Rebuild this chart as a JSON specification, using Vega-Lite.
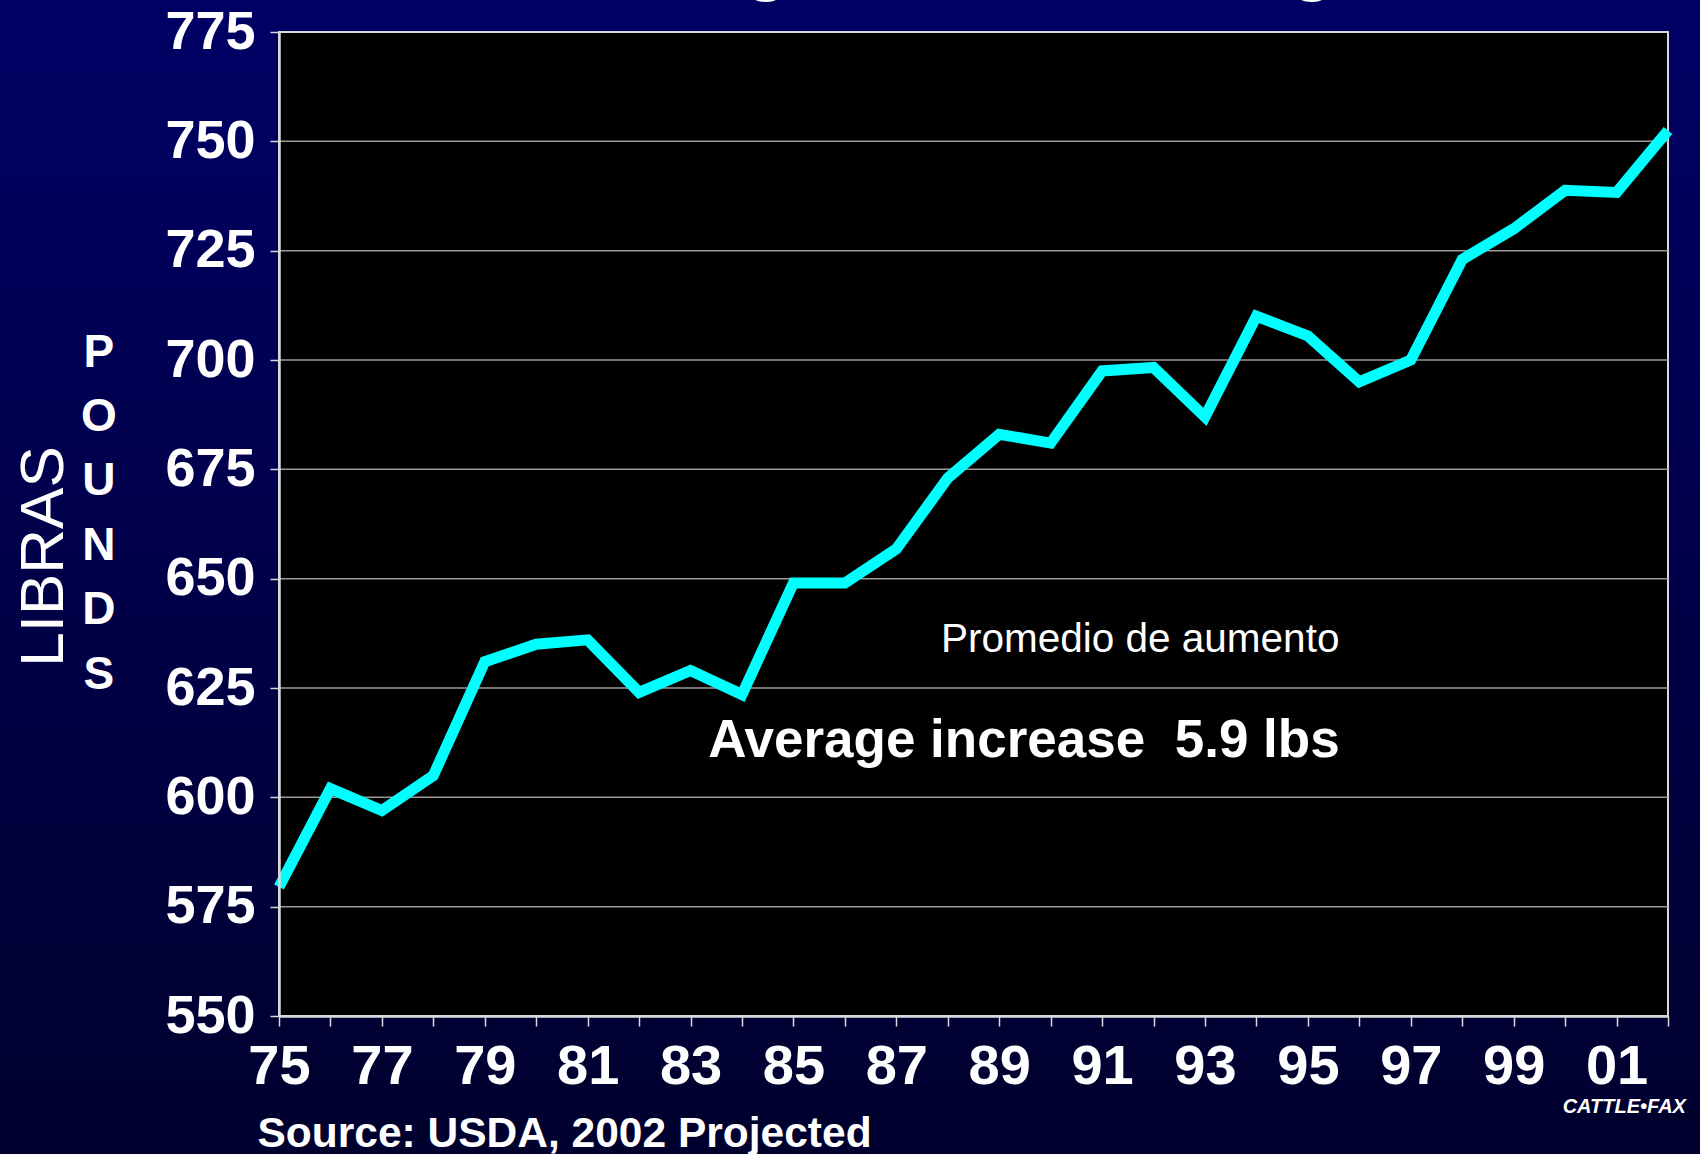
{
  "$schema": "https://vega.github.io/schema/vega-lite/v6.json",
  "autosize": {"type": "none"},
  "width": 1389,
  "height": 984,
  "padding": {"left": 279, "top": 32, "right": 32, "bottom": 138},
  "background": "#000048",
  "config": {"view": {"stroke": null}, "font": "Liberation Sans"},
  "datasets": {
    "weights": [
      {"year": 1975, "lbs": 579.5},
      {"year": 1976, "lbs": 602},
      {"year": 1977, "lbs": 597},
      {"year": 1978, "lbs": 605},
      {"year": 1979, "lbs": 631},
      {"year": 1980, "lbs": 635},
      {"year": 1981, "lbs": 636},
      {"year": 1982, "lbs": 624},
      {"year": 1983, "lbs": 629},
      {"year": 1984, "lbs": 623.5},
      {"year": 1985, "lbs": 649},
      {"year": 1986, "lbs": 649},
      {"year": 1987, "lbs": 656.8},
      {"year": 1988, "lbs": 673},
      {"year": 1989, "lbs": 683},
      {"year": 1990, "lbs": 681},
      {"year": 1991, "lbs": 697.5},
      {"year": 1992, "lbs": 698.3},
      {"year": 1993, "lbs": 687},
      {"year": 1994, "lbs": 710},
      {"year": 1995, "lbs": 705.5},
      {"year": 1996, "lbs": 695},
      {"year": 1997, "lbs": 700},
      {"year": 1998, "lbs": 723},
      {"year": 1999, "lbs": 730},
      {"year": 2000, "lbs": 738.8},
      {"year": 2001, "lbs": 738.3},
      {"year": 2002, "lbs": 752.5}
    ],
    "grid": [
      {"g": 575}, {"g": 600}, {"g": 625}, {"g": 650}, {"g": 675}, {"g": 700}, {"g": 725}, {"g": 750}
    ],
    "one": [{}]
  },
  "layer": [
    {
      "data": {"name": "one"},
      "mark": {"type": "rect", "color": {"gradient": "linear", "x1": 0, "y1": 0, "x2": 0, "y2": 1, "stops": [{"offset": 0, "color": "#000066"}, {"offset": 1, "color": "#00002c"}]}},
      "encoding": {
        "x": {"datum": 1969, "type": "quantitative", "scale": {"domain": [1975, 2002], "nice": false, "zero": false}},
        "x2": {"datum": 2005},
        "y": {"datum": 512, "type": "quantitative", "scale": {"domain": [550, 775], "nice": false, "zero": false}},
        "y2": {"datum": 786}
      }
    },
    {
      "data": {"name": "one"},
      "mark": {"type": "rect", "fill": "#000000", "stroke": "#d8d8d8", "strokeWidth": 2},
      "encoding": {
        "x": {"datum": 1975, "type": "quantitative", "scale": {"domain": [1975, 2002], "nice": false, "zero": false}},
        "x2": {"datum": 2002},
        "y": {"datum": 550, "type": "quantitative", "scale": {"domain": [550, 775], "nice": false, "zero": false}},
        "y2": {"datum": 775}
      }
    },
    {
      "data": {"name": "grid"},
      "mark": {"type": "rule", "color": "#9a9a9a", "strokeWidth": 1.5},
      "encoding": {
        "y": {"field": "g", "type": "quantitative", "scale": {"domain": [550, 775], "nice": false, "zero": false}}
      }
    },
    {
      "data": {"name": "weights"},
      "mark": {"type": "line", "color": "#00ffff", "strokeWidth": 11, "strokeJoin": "miter", "strokeCap": "butt"},
      "encoding": {
        "x": {
          "field": "year", "type": "quantitative",
          "scale": {"domain": [1975, 2002], "nice": false, "zero": false},
          "axis": {
            "zindex": 1,
            "values": [1975,1976,1977,1978,1979,1980,1981,1982,1983,1984,1985,1986,1987,1988,1989,1990,1991,1992,1993,1994,1995,1996,1997,1998,1999,2000,2001,2002],
            "labelExpr": "datum.value % 2 == 1 ? substring(toString(datum.value), 2) : ''",
            "grid": false,
            "domain": true, "domainColor": "#d8d8d8", "domainWidth": 2.5,
            "ticks": true, "tickColor": "#d8d8d8", "tickSize": 10, "tickWidth": 1.5,
            "labelFont": "Liberation Sans", "labelFontWeight": "bold", "labelFontSize": 56, "labelColor": "#ffffff",
            "labelPadding": 13, "labelFlush": false, "labelOverlap": false, "labelBound": false,
            "title": "Source: USDA, 2002 Projected",
            "titleFont": "Liberation Sans", "titleFontWeight": "bold", "titleFontSize": 42.5, "titleColor": "#ffffff",
            "titleAnchor": "start", "titleAlign": "left", "titleBaseline": "alphabetic",
            "titleX": -22, "titleY": 130
          }
        },
        "y": {
          "field": "lbs", "type": "quantitative",
          "scale": {"domain": [550, 775], "nice": false, "zero": false},
          "axis": {
            "zindex": 1,
            "values": [550, 575, 600, 625, 650, 675, 700, 725, 750, 775],
            "grid": false,
            "domain": true, "domainColor": "#d8d8d8", "domainWidth": 2.5,
            "ticks": true, "tickColor": "#d8d8d8", "tickSize": 9, "tickWidth": 1.5,
            "labelFont": "Liberation Sans", "labelFontWeight": "bold", "labelFontSize": 54, "labelColor": "#ffffff",
            "labelPadding": 15, "labelFlush": false, "labelOverlap": false, "labelBound": false,
            "title": "LIBRAS",
            "titleFont": "Liberation Sans", "titleFontWeight": "normal", "titleFontSize": 62, "titleColor": "#ffffff",
            "titleAngle": 270, "titleAlign": "center", "titleBaseline": "alphabetic",
            "titleX": -217, "titleY": 524
          }
        }
      }
    },
    {
      "data": {"name": "one"},
      "mark": {"type": "text", "text": "P\nO\nU\nN\nD\nS", "lineBreak": "\n", "lineHeight": 64.4, "font": "Liberation Sans", "fontWeight": "bold", "fontSize": 46, "color": "#ffffff", "align": "center", "baseline": "alphabetic"},
      "encoding": {
        "x": {"datum": 1971.5, "type": "quantitative", "scale": {"domain": [1975, 2002], "nice": false, "zero": false}},
        "y": {"datum": 698.5, "type": "quantitative", "scale": {"domain": [550, 775], "nice": false, "zero": false}}
      }
    },
    {
      "data": {"name": "one"},
      "mark": {"type": "text", "text": "Promedio de aumento", "font": "Liberation Sans", "fontWeight": "normal", "fontSize": 40.5, "color": "#ffffff", "align": "center", "baseline": "alphabetic"},
      "encoding": {
        "x": {"datum": 1991.74, "type": "quantitative", "scale": {"domain": [1975, 2002], "nice": false, "zero": false}},
        "y": {"datum": 633.2, "type": "quantitative", "scale": {"domain": [550, 775], "nice": false, "zero": false}}
      }
    },
    {
      "data": {"name": "one"},
      "mark": {"type": "text", "text": "Average increase \u00a05.9 lbs", "font": "Liberation Sans", "fontWeight": "bold", "fontSize": 53, "color": "#ffffff", "align": "center", "baseline": "alphabetic"},
      "encoding": {
        "x": {"datum": 1989.48, "type": "quantitative", "scale": {"domain": [1975, 2002], "nice": false, "zero": false}},
        "y": {"datum": 609.2, "type": "quantitative", "scale": {"domain": [550, 775], "nice": false, "zero": false}}
      }
    },
    {
      "data": {"name": "one"},
      "mark": {"type": "text", "text": "Average Dressed Weight", "font": "Liberation Sans", "fontWeight": "bold", "fontSize": 73.5, "color": "#ffffff", "align": "center", "baseline": "alphabetic"},
      "encoding": {
        "x": {"datum": 1988.5, "type": "quantitative", "scale": {"domain": [1975, 2002], "nice": false, "zero": false}},
        "y": {"datum": 785.2, "type": "quantitative", "scale": {"domain": [550, 775], "nice": false, "zero": false}}
      }
    },
    {
      "data": {"name": "one"},
      "mark": {"type": "text", "text": "CATTLE•FAX", "font": "Liberation Sans", "fontWeight": "bold", "fontStyle": "italic", "fontSize": 20, "color": "#ffffff", "align": "center", "baseline": "alphabetic"},
      "encoding": {
        "x": {"datum": 2001.15, "type": "quantitative", "scale": {"domain": [1975, 2002], "nice": false, "zero": false}},
        "y": {"datum": 527.8, "type": "quantitative", "scale": {"domain": [550, 775], "nice": false, "zero": false}}
      }
    }
  ]
}
